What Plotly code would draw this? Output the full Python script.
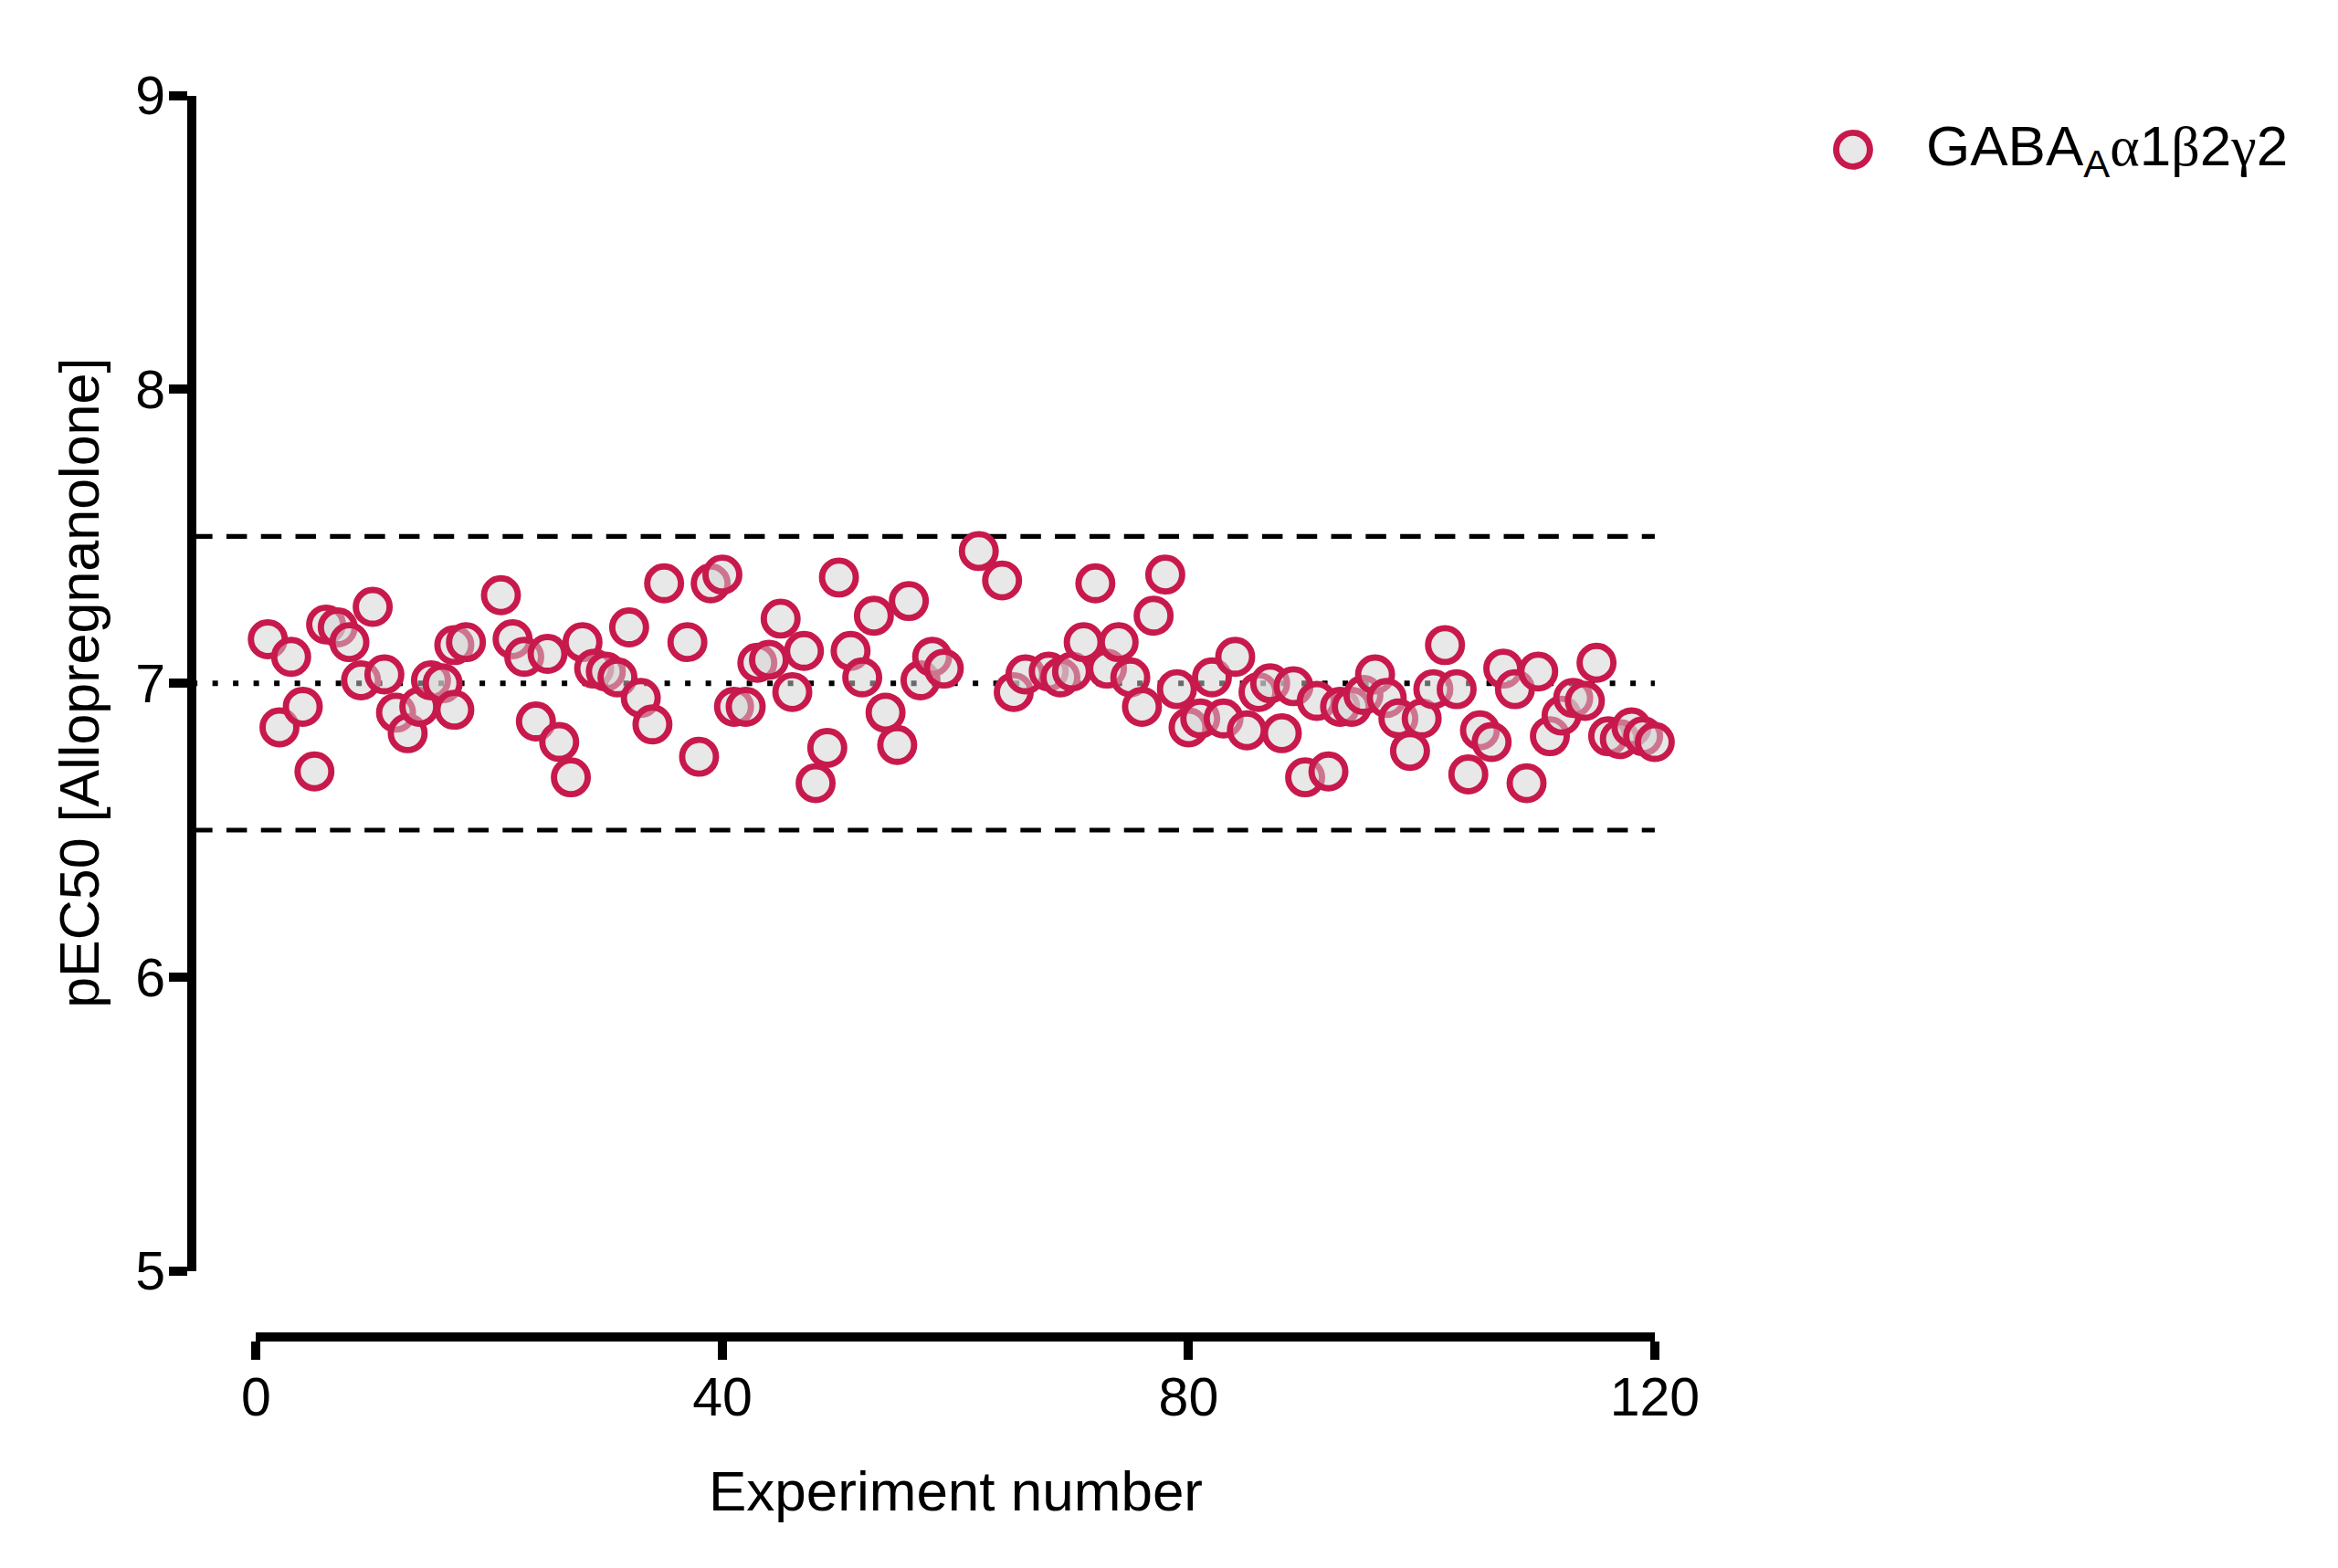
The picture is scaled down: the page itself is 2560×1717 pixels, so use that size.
import plotly.graph_objects as go

# ── data ──────────────────────────────────────────────────────────────────────
experiment = [
    1, 2, 3, 4, 5, 6, 7, 8, 9, 10, 11, 12, 13, 14, 15, 16, 17, 17, 18,
    21, 22, 23, 24, 25, 26, 27, 28, 29, 30, 31, 32, 33, 34, 35,
    37, 38, 39, 40, 41, 42, 43, 44, 45, 46, 47, 48, 49, 50, 51, 52, 53, 54,
    55, 56, 57, 58, 59, 62, 64, 65, 66, 68, 69, 70, 71, 72, 73, 74, 75, 76,
    77, 78, 79, 80, 81, 82, 83, 84, 85, 86, 87, 88, 89, 90, 91, 92, 93, 94,
    95, 96, 97, 98, 99, 100, 101, 102, 103, 104, 105, 106, 107, 108, 109,
    110, 111, 112, 113, 114, 115, 116, 117, 118, 119, 120,
]
pec50 = [
    7.15, 6.85, 7.09, 6.92, 6.70, 7.20, 7.19, 7.14, 7.01, 7.26, 7.03, 6.90,
    6.83, 6.92, 7.01, 7.00, 6.91, 7.13, 7.14,
    7.30, 7.15, 7.09, 6.87, 7.10, 6.80, 6.68, 7.14, 7.05, 7.04, 7.02, 7.19,
    6.95, 6.86, 7.34,
    7.14, 6.75, 7.34, 7.37, 6.92, 6.92, 7.07, 7.08, 7.22, 6.97, 7.11, 6.66,
    6.78, 7.36, 7.11, 7.02, 7.23, 6.90,
    6.79, 7.28, 7.01, 7.09, 7.05, 7.45, 7.35, 6.97, 7.03, 7.04, 7.02, 7.04,
    7.14, 7.34, 7.05, 7.14, 7.02, 6.92,
    7.23, 7.37, 6.98, 6.85, 6.88, 7.02, 6.88, 7.09, 6.84, 6.97, 7.00, 6.83,
    6.99, 6.68, 6.94, 6.70, 6.92, 6.92,
    6.96, 7.03, 6.95, 6.88, 6.77, 6.88, 6.98, 7.13, 6.98, 6.69, 6.84, 6.80,
    7.05, 6.98, 6.66,
    7.04, 6.82, 6.89, 6.95, 6.94, 7.07, 6.82, 6.81, 6.85, 6.82, 6.80,
]
greek = '<span style="font-family:Liberation Serif">{}</span>'
series_name = "GABA<sub>A</sub>" + greek.format("α") + "1" + greek.format("β") + "2" + greek.format("γ") + "2"

mean_value = 7.0
band_upper = 7.5
band_lower = 6.5

x_ticks = [0, 40, 80, 120]
y_ticks = [5, 6, 7, 8, 9]

# ── style / layout (paper fractions) ─────────────────────────────────────────
W, H = 2560, 1717
RED = "#C8194C"
FILL = "rgba(210,210,210,0.5)"
FONT = "Arial, Liberation Sans, sans-serif"

X_DOMAIN = [0.1028, 0.7166]      # x = 0 .. 120
Y_DOMAIN = [0.1813, 0.9608]      # y = 5 .. 9
YAXIS_POS = 0.0746
XAXIS_POS = 0.1373

fig = go.Figure()

fig.add_trace(go.Scatter(
    x=experiment, y=pec50,
    mode="markers",
    name=series_name,
    cliponaxis=False,
    showlegend=False,
    marker=dict(symbol="circle", size=37, color=FILL,
                line=dict(color=RED, width=6.9)),
))

# mean (dotted) and ±0.5 band (dashed), running from the y-axis to x = 120
for val, dash, lw in [(band_upper, "22.5px,15.3px", 5.1), (band_lower, "22.5px,15.3px", 5.1),
                      (mean_value, "6px,16.5px", 6)]:
    fig.add_shape(type="line", xref="paper", yref="y",
                  x0=YAXIS_POS, x1=X_DOMAIN[1], y0=val, y1=val,
                  line=dict(color="black", width=lw, dash=dash), layer="below")

# legend entry, drawn by hand so the symbol keeps its real size
LEG_X, LEG_Y = 0.8036, 0.9250
fig.add_shape(type="circle", xref="paper", yref="paper",
              xsizemode="pixel", ysizemode="pixel",
              xanchor=LEG_X, yanchor=LEG_Y,
              x0=-18.5, x1=18.5, y0=-18.5, y1=18.5,
              fillcolor=FILL, line=dict(color=RED, width=6.9))
fig.add_annotation(text=series_name, xref="paper", yref="paper",
                   x=0.8350, y=LEG_Y, xanchor="left", yanchor="middle",
                   showarrow=False, font=dict(size=62, color="black", family=FONT))

# axis titles
fig.add_annotation(text="Experiment number", xref="x", yref="paper",
                   x=60, y=0.0355, xanchor="center", yanchor="middle",
                   showarrow=False, font=dict(size=62, color="black", family=FONT))
fig.add_annotation(text="pEC50 [Allopregnanolone]", xref="paper", yref="y",
                   x=0.0255, y=7, textangle=-90, xanchor="center", yanchor="middle",
                   showarrow=False, font=dict(size=61, color="black", family=FONT))

axis_common = dict(
    showline=True, linecolor="black", linewidth=10.3,
    ticks="outside", ticklen=20, tickwidth=10.3, tickcolor="black",
    showgrid=False, zeroline=False,
    tickfont=dict(size=59, color="black", family=FONT),
)

fig.update_layout(
    width=W, height=H,
    margin=dict(l=0, r=0, t=0, b=0, pad=0),
    paper_bgcolor="white", plot_bgcolor="white",
    font=dict(family=FONT, color="black"),
    showlegend=False,
    xaxis=dict(domain=X_DOMAIN, range=[0, 120],
               anchor="free", position=XAXIS_POS,
               tickvals=x_ticks, ticklabelstandoff=-10, **axis_common),
    yaxis=dict(domain=Y_DOMAIN, range=[5, 9],
               anchor="free", position=YAXIS_POS,
               tickvals=y_ticks, ticklabelstandoff=-8, **axis_common),
)

fig.write_html("out.html")
